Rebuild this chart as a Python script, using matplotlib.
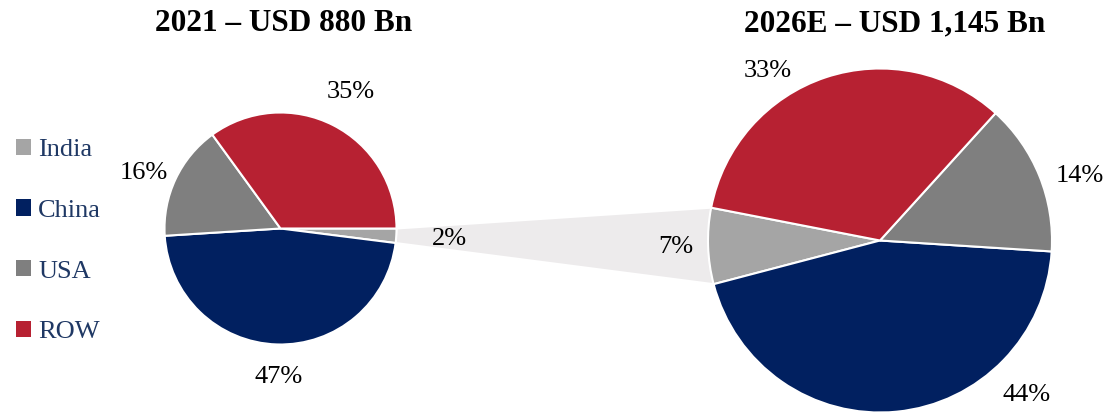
import numpy as np
import matplotlib
matplotlib.use("Agg")
import matplotlib.pyplot as plt
from matplotlib.patches import Polygon, Patch

# ---- data ----
categories = ["India", "China", "USA", "ROW"]
values_2021 = [2, 47, 16, 35]
values_2026 = [7, 44, 14, 33]
title_2021 = "2021 – USD 880 Bn"
title_2026 = "2026E – USD 1,145 Bn"

# ---- styles ----
colors = ["#A5A5A5", "#012060", "#7F7F7F", "#B72132"]
connector_color = "#EDEBEC"
legend_text_color = "#1F3864"
FONT = "Liberation Serif"

W, H = 1120, 415
fig = plt.figure(figsize=(W / 100, H / 100), dpi=100)
ax = fig.add_axes([0, 0, 1, 1])

# layout (pixel space, y measured from bottom)
c1, r1 = (280.5, H - 228.5), 116
c2, r2 = (880.0, H - 240.5), 172

w1, _ = ax.pie(values_2021, colors=colors, startangle=0, counterclock=False,
               center=c1, radius=r1, frame=True,
               wedgeprops=dict(edgecolor="white", linewidth=1.5))
w2, _ = ax.pie(values_2026, colors=colors, startangle=169, counterclock=True,
               center=c2, radius=r2, frame=True,
               wedgeprops=dict(edgecolor="white", linewidth=1.5))
ax.set_xlim(0, W)
ax.set_ylim(0, H)
ax.set_aspect("equal")
ax.axis("off")
for w in list(w1) + list(w2):
    w.set_zorder(3)


def pt(c, r, ang):
    a = np.deg2rad(ang)
    return (c[0] + r * np.cos(a), c[1] + r * np.sin(a))


# connector between India slices
iw1, iw2 = w1[0], w2[0]
p_top1 = pt(c1, r1, iw1.theta2)
p_bot1 = pt(c1, r1, iw1.theta1)
p_top2 = pt(c2, r2, iw2.theta1)
p_bot2 = pt(c2, r2, iw2.theta2)
ax.add_patch(Polygon([p_top1, p_top2, p_bot2, p_bot1], closed=True,
                     facecolor=connector_color, edgecolor="white",
                     linewidth=1.5, zorder=1))

# data labels: (angle deg, distance factor) per slice, placed like original
lab1 = [(-3.6, 1.46), (-90.8, 1.28), (158, 1.27), (62.8, 1.32)]
lab2 = [(181.9, 1.19), (-46.6, 1.24), (18, 1.22), (123.6, 1.18)]
for vals, c, r, labs in ((values_2021, c1, r1, lab1), (values_2026, c2, r2, lab2)):
    for v, (a, d) in zip(vals, labs):
        x, y = pt(c, r * d, a)
        ax.text(x, y, f"{v}%", ha="center", va="center", fontsize=19,
                family=FONT, color="black", zorder=5)

# titles
ax.text(284, H - 31, title_2021, ha="center", va="baseline", fontsize=22.5,
        fontweight="bold", family=FONT, color="black")
ax.text(895, H - 31, title_2026, ha="center", va="baseline", fontsize=22.5,
        fontweight="bold", family=FONT, color="black")

# legend
handles = [Patch(facecolor=col, edgecolor="none") for col in colors]
leg = fig.legend(handles, categories, loc="upper left",
                 bbox_to_anchor=(-0.0066, 1 - 115 / H), frameon=False,
                 prop=dict(family=FONT, size=19), labelspacing=1.45,
                 handlelength=0.57, handleheight=0.57, handletextpad=0.25)
for t in leg.get_texts():
    t.set_color(legend_text_color)

fig.savefig("out.png", dpi=100)
